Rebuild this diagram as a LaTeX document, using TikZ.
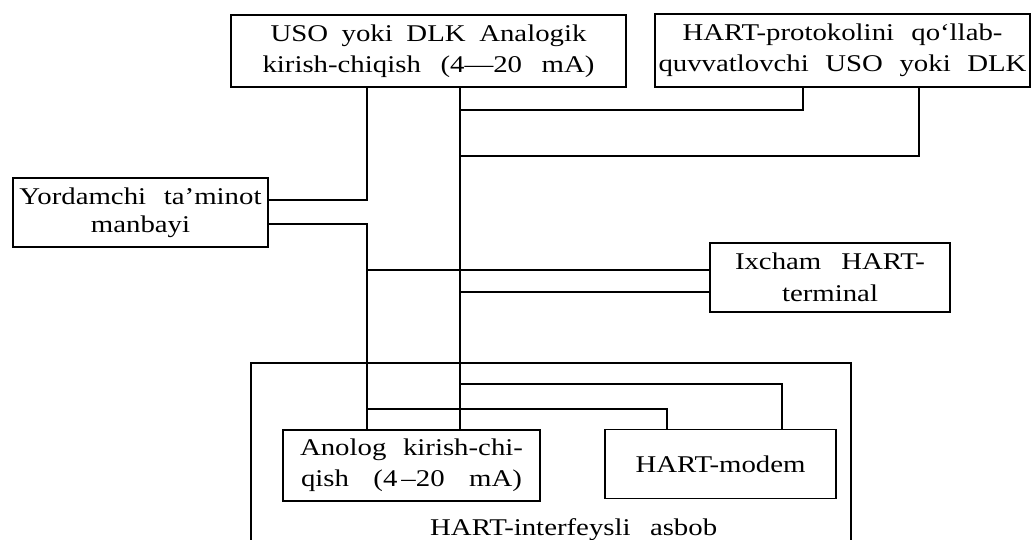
\documentclass[tikz,border=0pt]{standalone}
\usepackage{fontspec}
\setmainfont{Liberation Serif}[FakeStretch=1.2]
\begin{document}
\begin{tikzpicture}[x=1pt,y=-1pt,
  box/.style={draw,line width=1.8pt,inner sep=0pt,align=center,font=\fontsize{24}{31}\selectfont},
  wire/.style={line width=1.8pt},
  lbl/.style={inner sep=0pt,font=\fontsize{24}{31}\selectfont}]
\useasboundingbox (0,0) rectangle (1033,540);
\clip (0,0) rectangle (1033,540);
\fill[white] (0,0) rectangle (1033,540);
% blocks
\node[box,minimum width=395pt,minimum height=72pt] (uso) at (428.5,51)
  {\makebox[316pt][s]{USO yoki DLK Analogik}\\\makebox[332pt][s]{kirish-chiqish (4—20 mA)}};
\node[box,minimum width=375pt,minimum height=73pt] (hartp) at (842.5,50.5)
  {\makebox[320pt][s]{HART-protokolini qo‘llab-}\\\makebox[368pt][s]{quvvatlovchi USO yoki DLK}};
\node[box,minimum width=255pt,minimum height=69pt,font=\fontsize{24}{28}\selectfont] (yord) at (140.5,212.5)
  {\makebox[242pt][s]{Yordamchi ta’minot}\\manbayi};
\node[box,minimum width=240pt,minimum height=69pt,font=\fontsize{24}{32}\selectfont] (term) at (830,277.5)
  {\makebox[190pt][s]{Ixcham HART-}\\terminal};
\node[box,minimum width=600pt,minimum height=230pt] (dev) at (551,478) {};
\node[box,minimum width=257pt,minimum height=71pt] (anolog) at (411.5,465.5)
  {\makebox[223pt][s]{Anolog kirish-chi-}\\\makebox[221pt][s]{qish (4\,–20 mA)}};
\node[box,minimum width=231pt,minimum height=69pt] (modem) at (720.5,464) {HART-modem};
\node[lbl,anchor=base west] (devlabel) at (430,535) {\makebox[287pt][s]{HART-interfeysli asbob}};
% buses
\coordinate (busA) at (367,0);
\coordinate (busB) at (460,0);
% connectors
\draw[wire] (yord.east |- 0,200) -| (uso.south -| busA);
\draw[wire] (yord.east |- 0,224) -| (anolog.north -| busA);
\draw[wire] (busA |- 0,270) -- (term.west |- 0,270);
\draw[wire] (busA |- 0,409) -| (modem.north -| 667,0);
\draw[wire] (uso.south -| busB) -- (anolog.north -| busB);
\draw[wire] (busB |- 0,110) -| (hartp.south -| 803,0);
\draw[wire] (busB |- 0,156) -| (hartp.south -| 919,0);
\draw[wire] (busB |- 0,292) -- (term.west |- 0,292);
\draw[wire] (busB |- 0,384) -| (modem.north -| 782,0);
\end{tikzpicture}
\end{document}
